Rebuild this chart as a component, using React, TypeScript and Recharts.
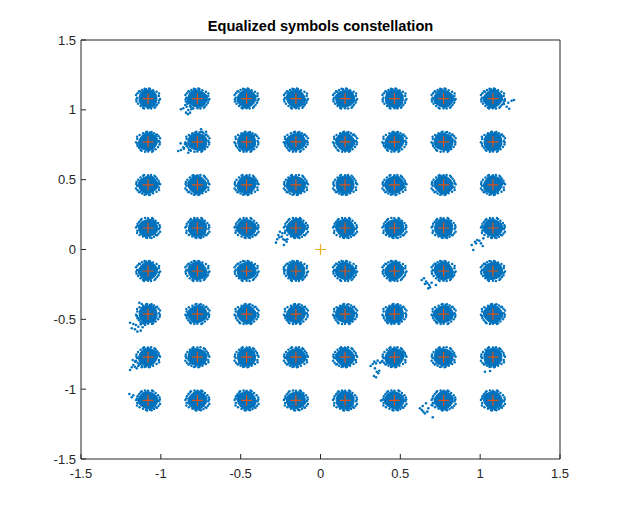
import React from "react";
import { ScatterChart, Scatter, XAxis, YAxis } from "recharts";

// Ideal 64-QAM levels (normalised)
const LEVELS = [-1.08, -0.771, -0.463, -0.154, 0.154, 0.463, 0.771, 1.08];
const AXIS_TICKS = [-1.5, -1, -0.5, 0, 0.5, 1, 1.5];
const ORIGIN_MARK = [{ x: 0, y: 0 }];

// Stray equalized symbols (tails / outliers)
const STRAY_X = [
  -0.874, -0.859, -0.847, -0.838, -0.828, -0.842, -0.83, -0.817, -0.809, -0.822, -0.834, -0.813,
  -0.891, -0.874, -0.859, -0.855, -0.838, -0.828, -0.876, -0.849, -0.822, -0.748, -0.74, -0.717,
  -0.279, -0.271, -0.264, -0.254, -0.243, -0.233, -0.222, -0.212, -0.229, -0.258, -0.239, -0.208,
  0.634, 0.648, 0.661, 0.669, 0.681, 0.686, 0.675, 0.654, 0.723, 0.696,
  0.947, 0.957, 0.968, 0.982, 0.995, 1.005, 1.016, 0.974, 1.02,
  -1.193, -1.172, -1.156, -1.141, -1.126, -1.11, -1.182, -1.162, -1.147, -1.126, -1.114, -1.099, -1.135, -1.12, -1.11, -1.151, -1.141,
  -1.193, -1.182, -1.172, -1.162, -1.151, -1.141, -1.13, -1.176, -1.162, -1.12,
  -1.197, -1.182, -1.172,
  0.314, 0.327, 0.337, 0.348, 0.358, 0.373, 0.383, 0.341, 0.352, 0.362, 0.335, 0.348, 0.368,
  0.623, 0.634, 0.644, 0.654, 0.669, 0.675, 0.661, 0.696, 0.703, 0.64,
  1.135, 1.155, 1.176, 1.197, 1.212, 1.166, 1.182, 1.149,
  0.379, 1.03, 1.062, -0.229, 0.842,
];
const STRAY_Y = [
  1.004, 1.011, 1.035, 1.022, 0.999, 0.98, 0.968, 0.98, 1.004, 1.047, 1.058, 1.022,
  0.705, 0.712, 0.732, 0.722, 0.741, 0.693, 0.76, 0.755, 0.712, 0.861, 0.843, 0.843,
  0.049, 0.073, 0.104, 0.127, 0.092, 0.073, 0.068, 0.056, 0.032, 0.087, 0.116, 0.073,
  -0.218, -0.206, -0.23, -0.242, -0.254, -0.271, -0.278, -0.247, -0.254, -0.238,
  0.032, -0.004, 0.056, 0.068, 0.063, 0.044, 0.025, 0.044, 0.08,
  -0.524, -0.533, -0.541, -0.553, -0.536, -0.528, -0.564, -0.571, -0.588, -0.581, -0.557, -0.541, -0.381, -0.39, -0.405, -0.476, -0.493,
  -0.863, -0.843, -0.827, -0.839, -0.851, -0.834, -0.82, -0.791, -0.803, -0.843,
  -1.035, -1.058, -1.044,
  -0.834, -0.82, -0.803, -0.815, -0.796, -0.811, -0.803, -0.851, -0.875, -0.886, -0.906, -0.915, -0.868,
  -1.137, -1.149, -1.161, -1.173, -1.161, -1.137, -1.101, -1.113, -1.201, -1.12,
  1.075, 1.065, 1.051, 1.065, 1.07, 1.022, 1.008, 1.042,
  -1.082, -0.875, -0.87, -0.142, 1.075,
];

const grid = LEVELS.flatMap((re) => LEVELS.map((im) => ({ x: re, y: im })));
const strays = STRAY_X.map((x, i) => ({ x, y: STRAY_Y[i] }));

const BLUE = "#0072BD";
const RED = "#D95319";
const YELLOW = "#EDB120";
const INK = "#262626";
const FONT = "'Liberation Sans', Arial, Helvetica, sans-serif";

// cluster cloud drawing (style only)
const RADII = [10.2, 9.6, 10, 9.4, 9.0, 9.8, 10.5, 9.5, 10.1, 9.6, 9.1, 9.9];
const SPECKLE: [number, number][] = [
  [-11, -2], [-10.8, 3], [11, 1], [11.5, -3], [-7.5, -8.5], [5, -9.8], [0, -10.5], [8, 7.5],
  [-5, 9.2], [2, 10.2], [10, -5.5], [-11, 5.5], [9, 8], [-9, -6.5], [4, -10.8], [-2, 10.4],
  [12, 4], [-12, -0.5], [6, 9.4], [-3, -10.8], [10.5, 6], [-8.5, 7.5], [-10.5, -4.5], [7.5, -8],
  [11.8, -0.8], [-1, 11], [-6.5, -9.8], [3.5, 10.8],
];

const Cloud = (props: any) => {
  const { cx, cy, index = 0 } = props;
  if (cx == null || cy == null) return null;
  const fx = index % 2 === 0 ? 1 : -1;
  const fy = Math.floor(index / 2) % 2 === 0 ? 1 : -1;
  const rot = (index % 5) * 0.6;
  const pts = RADII.map((r, k) => {
    const a = (k / RADII.length) * Math.PI * 2 + rot;
    return `${cx + Math.cos(a) * r * fx},${cy + Math.sin(a) * r * 0.92 * fy}`;
  }).join(" ");
  return (
    <g>
      <polygon points={pts} fill={BLUE} stroke={BLUE} strokeWidth={1} strokeLinejoin="round" />
      {SPECKLE.map(([dx, dy], k) => (
        <circle key={k} cx={cx + dx * fx} cy={cy + dy * 0.92 * fy} r={1.25} fill={BLUE} />
      ))}
    </g>
  );
};

const Dot = (props: any) => {
  const { cx, cy } = props;
  if (cx == null || cy == null) return null;
  return <circle cx={cx} cy={cy} r={1.3} fill={BLUE} />;
};

const makeCross = (color: string) => (props: any) => {
  const { cx, cy } = props;
  if (cx == null || cy == null) return null;
  const h = 5.5;
  return (
    <path
      d={`M${cx - h},${cy}H${cx + h}M${cx},${cy - h}V${cy + h}`}
      stroke={color}
      strokeWidth={1.2}
      fill="none"
    />
  );
};
const RedCross = makeCross(RED);
const YellowCross = makeCross(YELLOW);

export default function App() {
  const tickStyle = { fontSize: 13, fill: INK, fontFamily: FONT };
  return (
    <div style={{ position: "absolute", left: 0, top: 0, width: 620, height: 516, background: "#fff" }}>
      <div
        style={{
          position: "absolute",
          left: 81,
          width: 479,
          top: 18,
          textAlign: "center",
          fontFamily: FONT,
          fontWeight: "bold",
          fontSize: 14.6,
          color: "#000",
          lineHeight: "17px",
        }}
      >
        Equalized symbols constellation
      </div>
      <ScatterChart width={620} height={516} margin={{ top: 30, right: 50, bottom: 27, left: 41 }}>
        <XAxis
          xAxisId="b"
          dataKey="x"
          type="number"
          orientation="bottom"
          domain={[-1.5, 1.5]}
          ticks={AXIS_TICKS}
          allowDataOverflow
          height={30}
          tickSize={-5}
          tickMargin={15}
          stroke={INK}
          tick={tickStyle}
          axisLine={{ stroke: INK }}
          tickLine={{ stroke: INK }}
        />
        <XAxis
          xAxisId="t"
          dataKey="x"
          type="number"
          orientation="top"
          domain={[-1.5, 1.5]}
          ticks={AXIS_TICKS}
          allowDataOverflow
          height={10}
          tickSize={-5}
          tick={false}
          stroke={INK}
          axisLine={{ stroke: INK }}
          tickLine={{ stroke: INK }}
        />
        <YAxis
          yAxisId="l"
          dataKey="y"
          type="number"
          orientation="left"
          domain={[-1.5, 1.5]}
          ticks={AXIS_TICKS}
          allowDataOverflow
          width={40}
          tickSize={-5}
          tickMargin={10}
          stroke={INK}
          tick={tickStyle}
          axisLine={{ stroke: INK }}
          tickLine={{ stroke: INK }}
        />
        <YAxis
          yAxisId="r"
          dataKey="y"
          type="number"
          orientation="right"
          domain={[-1.5, 1.5]}
          ticks={AXIS_TICKS}
          allowDataOverflow
          width={10}
          tickSize={-5}
          tick={false}
          stroke={INK}
          axisLine={{ stroke: INK }}
          tickLine={{ stroke: INK }}
        />
        <Scatter xAxisId="b" yAxisId="l" data={grid} shape={Cloud} isAnimationActive={false} />
        <Scatter xAxisId="b" yAxisId="l" data={strays} shape={Dot} isAnimationActive={false} />
        <Scatter xAxisId="b" yAxisId="l" data={grid} shape={RedCross} isAnimationActive={false} />
        <Scatter xAxisId="b" yAxisId="l" data={ORIGIN_MARK} shape={YellowCross} isAnimationActive={false} />
      </ScatterChart>
    </div>
  );
}
